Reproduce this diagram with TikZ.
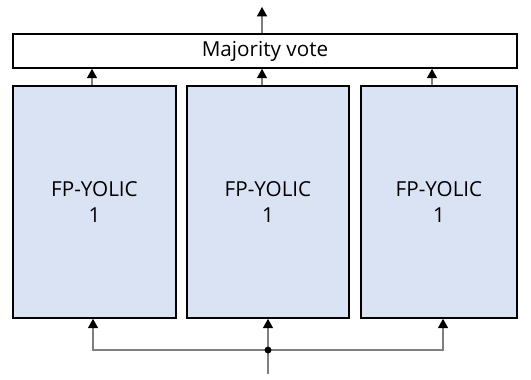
\documentclass[tikz,border=0pt]{standalone}
\usepackage{fontspec}
\setmainfont{Open Sans}
\usetikzlibrary{arrows.meta}
\definecolor{boxfill}{HTML}{DAE3F3}
\definecolor{wire}{HTML}{7F7F7F}
\begin{document}
\begin{tikzpicture}[x=0.75pt,y=-0.75pt,
  font=\fontsize{15.5}{20}\selectfont,
  blockbox/.style={draw=black,line width=1.2pt,fill=boxfill,inner sep=0pt,minimum height=174pt,align=center},
  votebox/.style={draw=black,line width=1.2pt,fill=white,inner sep=0pt,minimum width=378pt,minimum height=25.5pt},
  conn/.style={draw=wire,line width=0.9pt,-{Triangle[length=7pt,width=7.5pt,color=black]}},
  wireline/.style={draw=wire,line width=0.9pt}]
\useasboundingbox (0,0) rectangle (531,379);
\node[votebox] (m) at (265,51) {Majority vote};
\node[blockbox,minimum width=122.25pt] (l) at (94.5,202) {FP-YOLIC\\1};
\node[blockbox,minimum width=121.5pt] (c) at (268,202) {FP-YOLIC\\1};
\node[blockbox,minimum width=117pt] (r) at (439,202) {FP-YOLIC\\1};
\coordinate (out) at (262,7);
\coordinate (in) at (268,374);
\coordinate (j) at (268,350);
\draw[conn] (m.north -| 262,0) -- (out);
\draw[conn] (l.north -| 92,0) -- (m.south -| 92,0);
\draw[conn] (c.north -| 262,0) -- (m.south -| 262,0);
\draw[conn] (r.north -| 432,0) -- (m.south -| 432,0);
\draw[wireline] (in) -- (j);
\draw[conn] (j) -- (c.south -| j);
\draw[conn] (j) -| (l.south -| 93,0);
\draw[conn] (j) -| (r.south -| 443,0);
\fill[black] (j) circle (2.6pt);
\end{tikzpicture}
\end{document}
